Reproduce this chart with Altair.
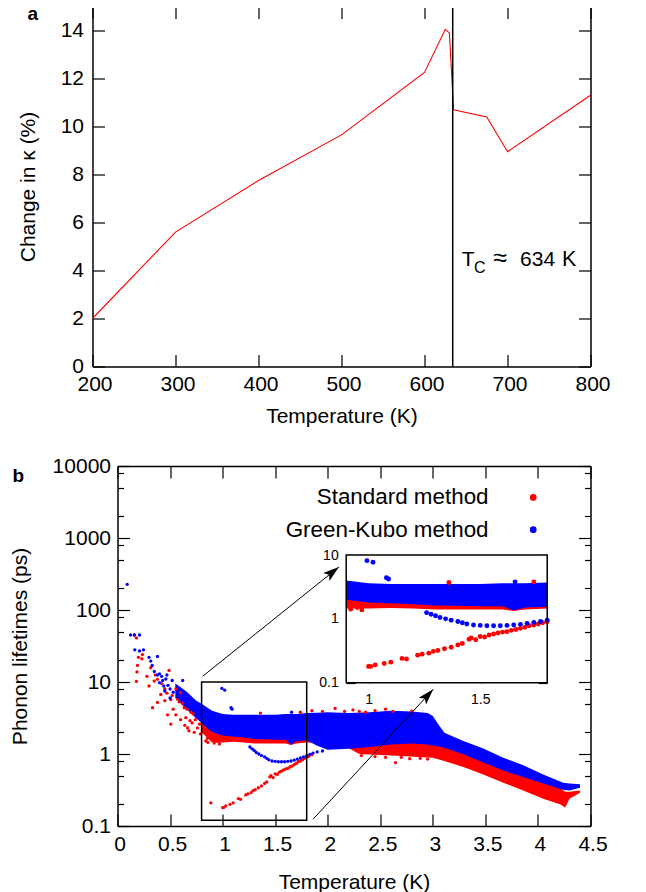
import altair as alt
import pandas as pd

FONT = "Liberation Sans"
RED = "#ff0000"
BLUE = "#0000ff"

# ---------------- panel a data ----------------
a_temperature = [200, 300, 400, 500, 600, 625, 630, 635, 675, 700, 800]
a_change = [2.0, 5.6, 7.75, 9.65, 12.25, 14.05, 13.9, 10.7, 10.4, 8.95, 11.3]
a_tc = 634
a_x_ticks = [200, 300, 400, 500, 600, 700, 800]
a_y_ticks = [0, 2, 4, 6, 8, 10, 12, 14]

# ---------------- panel b data ----------------
blue_band_T = [0.55, 0.65, 0.75, 0.80, 0.90, 1.00, 1.10, 1.20, 1.30, 1.40, 1.50, 1.60, 1.65, 1.70, 1.80, 1.90,
               2.00, 2.20, 2.40, 2.60, 2.80, 2.95, 3.00, 3.05, 3.11, 3.29, 3.48, 3.67, 3.86, 4.05, 4.24, 4.30, 4.40]
blue_band_top = [9.5, 7.5, 5.5, 5.0, 4.0, 3.6, 3.5, 3.5, 3.5, 3.5, 3.5, 3.6, 3.6, 3.6, 3.7, 3.75,
                 3.8, 3.7, 3.8, 4.0, 3.9, 3.7, 3.37, 2.6, 1.98, 1.51, 1.19, 0.89, 0.70, 0.52, 0.40, 0.39, 0.38]
blue_band_bot = [6.0, 4.3, 3.1, 2.7, 2.0, 1.8, 1.75, 1.7, 1.62, 1.6, 1.58, 1.58, 1.35, 1.5, 1.55, 1.3,
                 1.15, 1.18, 1.25, 1.35, 1.4, 1.35, 1.3, 1.28, 1.22, 0.99, 0.76, 0.59, 0.48, 0.39, 0.32, 0.31, 0.34]

red_band_T = [0.80, 0.90, 1.00, 1.10, 1.20, 1.30, 1.40, 1.50, 1.60, 1.65, 1.70, 1.80, 1.90, 2.00, 2.20,
              2.30, 2.50, 2.70, 2.90, 3.00, 3.11, 3.29, 3.48, 3.67, 3.86, 4.05, 4.21, 4.26, 4.30, 4.40]
red_band_top = [3.5, 3.0, 2.6, 2.5, 2.5, 2.5, 2.5, 2.5, 2.5, 2.5, 2.5, 2.6, 2.6, 2.6, 2.5,
                2.4, 2.4, 2.4, 2.3, 2.2, 1.5, 1.1, 0.85, 0.65, 0.52, 0.42, 0.34, 0.30, 0.30, 0.31]
red_band_bot = [2.0, 1.45, 1.45, 1.48, 1.45, 1.40, 1.40, 1.40, 1.40, 1.33, 1.40, 1.45, 1.42, 1.35, 1.20,
                1.00, 0.97, 0.94, 0.90, 0.89, 0.80, 0.66, 0.52, 0.40, 0.31, 0.24, 0.20, 0.18, 0.24, 0.29]

red_pts_T = [0.16, 0.18, 0.20, 0.19, 0.185, 0.18, 0.238, 0.232, 0.28, 0.30, 0.317, 0.333, 0.349, 0.36, 0.38, 0.38,
             0.412, 0.42, 0.45, 0.45, 0.47, 0.476, 0.49, 0.507, 0.507, 0.52, 0.53, 0.555, 0.555, 0.57, 0.587,
             0.60, 0.60, 0.62, 0.634, 0.64, 0.65, 0.66, 0.666, 0.68, 0.69, 0.70, 0.71, 0.72, 0.73, 0.74, 0.76,
             0.78, 0.79, 0.825, 0.84, 0.856, 0.86, 0.88, 0.888, 0.92, 0.95, 0.97,
             1.00, 1.01, 1.03, 1.07, 1.10, 1.15, 1.17, 1.22, 1.24, 1.27, 1.29, 1.31, 1.34, 1.37, 1.40, 1.42,
             1.45, 1.46, 1.48, 1.50, 1.52, 1.54, 1.56, 1.58, 1.60, 1.62, 1.64, 1.66, 1.68, 1.70, 1.72, 1.74,
             1.76, 1.78, 1.80, 1.82, 1.85,
             1.36, 1.74, 1.85, 1.95, 2.07, 2.16, 2.24, 2.30, 2.36, 2.45, 2.55, 2.62, 2.80,
             2.32, 2.45, 2.55, 2.645, 2.70, 2.78, 2.88, 2.95]
red_pts_v = [45, 41, 22, 17, 13.8, 10.2, 24, 21, 12, 8.8, 15.8, 4.4, 10.3, 12.5, 10.9, 5.2,
             6.7, 9.5, 8, 5.5, 7, 3.5, 14.5, 5.7, 2.6, 6.5, 4.2, 3.5, 8.0, 5.8, 5.3,
             7.1, 3.0, 5.0, 4.4, 2.5, 3.2, 4.2, 2.3, 2.1, 2.9, 3.8, 2.7, 3.6, 2.0, 3.0, 2.3,
             2.6, 1.9, 1.98, 1.52, 1.65, 1.45, 1.7, 0.21, 1.42, 1.5, 1.38,
             0.18, 0.18, 0.19, 0.20, 0.21, 0.24, 0.235, 0.27, 0.28, 0.29, 0.31, 0.32, 0.34, 0.36, 0.39, 0.41,
             0.48, 0.50, 0.47, 0.53, 0.52, 0.56, 0.58, 0.60, 0.62, 0.63, 0.66, 0.68, 0.71, 0.74, 0.78, 0.80,
             0.83, 0.87, 0.90, 0.93, 0.98,
             3.7, 3.8, 4.0, 3.9, 4.3, 3.9, 4.1, 3.9, 3.8, 4.0, 4.2, 3.9, 3.95,
             0.95, 0.92, 0.90, 0.76, 0.90, 0.86, 0.87, 0.85]

blue_pts_T = [0.092, 0.124, 0.161, 0.209, 0.165, 0.21, 0.247, 0.30, 0.317, 0.33, 0.35, 0.38, 0.38, 0.40,
              0.40, 0.42, 0.43, 0.44, 0.45, 0.46, 0.47, 0.48, 0.50, 0.50, 0.52, 0.53, 0.58, 0.62,
              0.993, 1.02, 1.08, 1.09, 1.656,
              1.26, 1.28, 1.30, 1.32, 1.345, 1.37, 1.40, 1.42, 1.44, 1.47, 1.50, 1.53, 1.56, 1.59,
              1.62, 1.65, 1.68, 1.71, 1.74, 1.77, 1.80, 1.83, 1.86, 1.90, 1.95]
blue_pts_v = [227, 45, 45, 45, 28, 27, 28, 22, 19.5, 17, 14, 22.6, 12.5, 13,
              9.8, 12, 10.5, 8.8, 7.5, 11, 12.5, 9, 8, 6, 10.5, 7.2, 6.2, 10.5,
              8.15, 7.7, 4.4, 4.2, 3.8,
              1.25, 1.18, 1.12, 1.05, 1.0, 0.95, 0.91, 0.87, 0.83, 0.80, 0.79, 0.78, 0.78, 0.78,
              0.79, 0.80, 0.82, 0.85, 0.88, 0.91, 0.95, 0.99, 1.03, 1.07, 1.10]

series_names = ["Standard method", "Green-Kubo method"]
b_x_ticks = [0, 0.5, 1, 1.5, 2, 2.5, 3, 3.5, 4, 4.5]
b_y_major = [0.1, 1, 10, 100, 1000, 10000]
b_y_minor = [0.2, 0.5, 0.8, 2, 5, 8, 20, 50, 80, 200, 500, 800, 2000, 5000, 8000]
inset_x_ticks = [1, 1.5]
inset_y_major = [0.1, 1, 10]
inset_y_minor = [0.2, 0.3, 0.4, 0.5, 0.6, 0.7, 0.8, 0.9, 2, 3, 4, 5, 6, 7, 8, 9]

# annotation anchors (data coordinates)
tc_parts = ["T", "C", "≈", "634", "K"]
tc_parts_x = [645.0, 659.5, 682.9, 715.1, 765.8]
tc_parts_y = [4.17, 3.89, 4.17, 4.17, 4.17]
legend_symbol_T = 3.955
legend_label_T = 3.53
legend_v = [3662, 1304]
zoom_box_T = [0.8, 1.8]
zoom_box_v = [0.12, 10]
inset_T = [0.9, 1.8]
inset_v = [0.1, 10]
arrow_T0 = [0.81, 1.86]
arrow_v0 = [12.0, 0.124]
arrow_T1 = [2.106, 3.004]
arrow_v1 = [395.0, 7.9]
arrow_angle = [51.5, 42.8]

# ---------------- geometry ----------------
W = 498
H = 360
B_LEFT = 25
INSET_X = [253.7, 454.7]
INSET_Y = [216.7, 89]
ARROW = "M0,0L-0.5,1.6L0,1.25L0.5,1.6Z"


def tick_axis(orient, offset, values, size, domain=False):
    return alt.Axis(orient=orient, offset=offset, values=values, labels=False, ticks=True,
                    tickSize=size, domain=domain, grid=False, title=None)


def label_axis(orient, offset, values, pad, title=None, fmt="~g", size=21, domain=True, **kw):
    return alt.Axis(orient=orient, offset=offset, values=values, ticks=False, domain=domain,
                    labelPadding=pad, format=fmt, labelFontSize=size, title=title, grid=False,
                    labelFlush=False, labelOverlap=False, **kw)


def tc_text(i, size, axes=None):
    df = pd.DataFrame({"x": [tc_parts_x[i]], "y": [tc_parts_y[i]], "s": [tc_parts[i]]})
    ax_x, ax_y = axes if axes else (None, None)
    return alt.Chart(df).mark_text(align="left", baseline="alphabetic", font=FONT, fontSize=size,
                                   color="black").encode(
        x=alt.X("x:Q", scale=xa, axis=ax_x), y=alt.Y("y:Q", scale=ya, axis=ax_y), text="s:N")


# ================= panel a =================
xa = alt.Scale(domain=[200, 800])
ya = alt.Scale(domain=[0, 15])

df_a = pd.DataFrame({"T": a_temperature, "pct": a_change})
a_line = alt.Chart(df_a).mark_line(color=RED, strokeWidth=1.1).encode(
    x=alt.X("T:Q", scale=xa, axis=label_axis("bottom", 0, a_x_ticks, 18.4, "Temperature (K)", fmt="d",
                                             labelBaseline="middle", labelOffset=2, titleY=50,
                                             titleBaseline="middle")),
    y=alt.Y("pct:Q", scale=ya, axis=label_axis("left", 0, a_y_ticks, 9, "Change in κ (%)", fmt="d",
                                               titleX=-64.5, titleY=180, titleBaseline="middle")),
)

df_tc = pd.DataFrame({"T": [a_tc], "lo": [0], "hi": [15]})
a_rule = alt.Chart(df_tc).mark_rule(color="black", strokeWidth=1.5).encode(
    x=alt.X("T:Q", scale=xa, axis=tick_axis("top", -H, a_x_ticks, 12)),
    y=alt.Y("lo:Q", scale=ya, axis=tick_axis("right", -W, a_y_ticks, 12)),
    y2="hi:Q",
)

a_T = tc_text(0, 21, (tick_axis("bottom", -H, a_x_ticks, 12, domain=True),
                      tick_axis("left", -W, a_y_ticks, 12, domain=True)))
a_C = tc_text(1, 16)
a_approx = tc_text(2, 25)
a_634 = tc_text(3, 21)
a_K = tc_text(4, 21.5)

panel_a = alt.layer(a_line, a_rule, a_T, a_C, a_approx, a_634, a_K).resolve_axis(
    x="independent", y="independent").properties(
    width=W, height=H,
    title=alt.TitleParams("a", anchor="start", frame="group", dx=-65, offset=-33.7,
                          baseline="alphabetic", fontSize=19, fontWeight="bold", font=FONT,
                          color="black"))

# ================= panel b =================
xb = alt.Scale(domain=[0, 4.5], range=[B_LEFT, W])
yb = alt.Scale(type="log", domain=[0.1, 10000])
xi = alt.Scale(domain=[0.9, 1.8], range=INSET_X)
yi = alt.Scale(type="log", domain=[0.1, 10], range=INSET_Y)
cscale = alt.Scale(domain=series_names, range=[RED, BLUE])

df_rb = pd.DataFrame({"T": red_band_T, "top": red_band_top, "bot": red_band_bot})
df_bb = pd.DataFrame({"T": blue_band_T, "top": blue_band_top, "bot": blue_band_bot})
df_pts = pd.concat([
    pd.DataFrame({"T": red_pts_T, "v": red_pts_v, "series": series_names[0]}),
    pd.DataFrame({"T": blue_pts_T, "v": blue_pts_v, "series": series_names[1]}),
], ignore_index=True)
df_leg = pd.DataFrame({"series": series_names, "sx": [legend_symbol_T] * 2,
                       "lx": [legend_label_T] * 2, "v": legend_v})
df_arr = pd.DataFrame({"x0": arrow_T0, "y0": arrow_v0, "x1": arrow_T1, "y1": arrow_v1, "ang": arrow_angle})
df_box = pd.DataFrame({"T0": [zoom_box_T[0]], "T1": [zoom_box_T[1]], "v0": [zoom_box_v[0]], "v1": [zoom_box_v[1]]})
df_ins = pd.DataFrame({"T0": [inset_T[0]], "T1": [inset_T[1]], "v0": [inset_v[0]], "v1": [inset_v[1]]})

b_red_area = alt.Chart(df_rb).mark_area(color=RED, opacity=1).encode(
    x=alt.X("T:Q", scale=xb, axis=label_axis("bottom", 0, b_x_ticks, 18.4, "Temperature (K)",
                                             labelBaseline="middle", labelOffset=2, titleY=56.7,
                                             titleBaseline="middle")),
    y=alt.Y("top:Q", scale=yb, axis=label_axis("left", -B_LEFT, b_y_major, 7, "Phonon lifetimes (ps)",
                                               titleX=-97, titleY=180, titleBaseline="middle")),
    y2="bot:Q",
)
b_blue_area = alt.Chart(df_bb).mark_area(color=BLUE, opacity=1).encode(
    x=alt.X("T:Q", scale=xb, axis=tick_axis("top", -H, b_x_ticks, 12)),
    y=alt.Y("top:Q", scale=yb, axis=tick_axis("right", B_LEFT - W, b_y_major, 12)),
    y2="bot:Q",
)
b_points = alt.Chart(df_pts).mark_circle(size=11, opacity=1).encode(
    x=alt.X("T:Q", scale=xb, axis=tick_axis("bottom", -H, b_x_ticks, 12, domain=True)),
    y=alt.Y("v:Q", scale=yb, axis=tick_axis("left", -W, b_y_major, 12, domain=True)),
    color=alt.Color("series:N", scale=cscale, legend=None),
)
b_leg_sym = alt.Chart(df_leg).mark_circle(size=45, opacity=1).encode(
    x=alt.X("sx:Q", scale=xb, axis=None),
    y=alt.Y("v:Q", scale=yb, axis=None),
    color=alt.Color("series:N", scale=cscale, legend=None),
)
b_leg_txt = alt.Chart(df_leg).mark_text(align="right", baseline="middle", font=FONT, fontSize=22.4,
                                        color="black").encode(
    x=alt.X("lx:Q", scale=xb, axis=None),
    y=alt.Y("v:Q", scale=yb, axis=None),
    text="series:N",
)
b_arrows = alt.Chart(df_arr).mark_rule(color="black", strokeWidth=1).encode(
    x=alt.X("x0:Q", scale=xb, axis=None),
    y=alt.Y("y0:Q", scale=yb, axis=tick_axis("right", B_LEFT - W, b_y_minor, 6)),
    x2="x1:Q", y2="y1:Q",
)
b_heads = alt.Chart(df_arr).mark_point(shape=ARROW, filled=True, color="black", size=400,
                                       opacity=1).encode(
    x=alt.X("x1:Q", scale=xb, axis=None),
    y=alt.Y("y1:Q", scale=yb, axis=tick_axis("left", -W, b_y_minor, 6)),
    angle=alt.Angle("ang:Q", scale=None),
)
b_box = alt.Chart(df_box).mark_rect(fillOpacity=0, stroke="black", strokeWidth=1.5).encode(
    x=alt.X("T0:Q", scale=xb, axis=None), x2="T1:Q",
    y=alt.Y("v0:Q", scale=yb, axis=None), y2="v1:Q",
)

# ---- inset ----
in_T = (alt.datum.T >= inset_T[0]) & (alt.datum.T <= inset_T[1])
i_bg = alt.Chart(df_ins).mark_rect(color="white").encode(
    x=alt.X("T0:Q", scale=xi, axis=label_axis("bottom", INSET_Y[0] - H, inset_x_ticks, 17, None,
                                              size=14, labelBaseline="middle", domain=False)),
    x2="T1:Q",
    y=alt.Y("v0:Q", scale=yi, axis=label_axis("left", -INSET_X[0], inset_y_major, 8, None,
                                              size=14, domain=False)),
    y2="v1:Q",
)
i_red_area = alt.Chart(df_rb).transform_filter(in_T).mark_area(color=RED, opacity=1).encode(
    x=alt.X("T:Q", scale=xi, axis=tick_axis("top", -INSET_Y[0], inset_x_ticks, 9)),
    y=alt.Y("top:Q", scale=yi, axis=tick_axis("right", INSET_X[0] - W, inset_y_major, 9)),
    y2="bot:Q",
)
i_blue_area = alt.Chart(df_bb).transform_filter(in_T).mark_area(color=BLUE, opacity=1).encode(
    x=alt.X("T:Q", scale=xi, axis=tick_axis("bottom", INSET_Y[1] - H, inset_x_ticks, 9)),
    y=alt.Y("top:Q", scale=yi, axis=tick_axis("left", -INSET_X[1], inset_y_major, 9)),
    y2="bot:Q",
)
i_points = alt.Chart(df_pts).transform_filter(in_T).mark_circle(size=24, opacity=1).encode(
    x=alt.X("T:Q", scale=xi, axis=None),
    y=alt.Y("v:Q", scale=yi, axis=tick_axis("right", INSET_X[0] - W, inset_y_minor, 5.5)),
    color=alt.Color("series:N", scale=cscale, legend=None),
)
i_frame = alt.Chart(df_ins).mark_rect(fillOpacity=0, stroke="black", strokeWidth=1.5).encode(
    x=alt.X("T0:Q", scale=xi, axis=None), x2="T1:Q",
    y=alt.Y("v0:Q", scale=yi, axis=tick_axis("left", -INSET_X[1], inset_y_minor, 5.5)),
    y2="v1:Q",
)

panel_b = alt.layer(b_red_area, b_blue_area, b_points, b_leg_sym, b_leg_txt, b_arrows, b_heads, b_box,
                    i_bg, i_red_area, i_blue_area, i_points, i_frame).resolve_scale(
    x="independent", y="independent").resolve_axis(
    x="independent", y="independent").properties(
    width=W, height=H,
    title=alt.TitleParams("b", anchor="start", frame="group", dx=-80, offset=-46.4,
                          baseline="alphabetic", fontSize=19, fontWeight="bold", font=FONT,
                          color="black"))

chart = alt.vconcat(panel_a, panel_b, spacing=28.5).properties(
    padding={"left": 1.5, "top": -3.5, "right": 4, "bottom": 0}
).configure_view(strokeWidth=0).configure_axis(
    labelFont=FONT, titleFont=FONT, labelFontSize=21, titleFontSize=21, labelColor="black",
    titleColor="black", tickColor="black", domainColor="black", tickWidth=1.2, domainWidth=1.5,
    titleFontWeight="normal", grid=False)

chart.save("out.html", embed_options={"renderer": "svg", "actions": False})
